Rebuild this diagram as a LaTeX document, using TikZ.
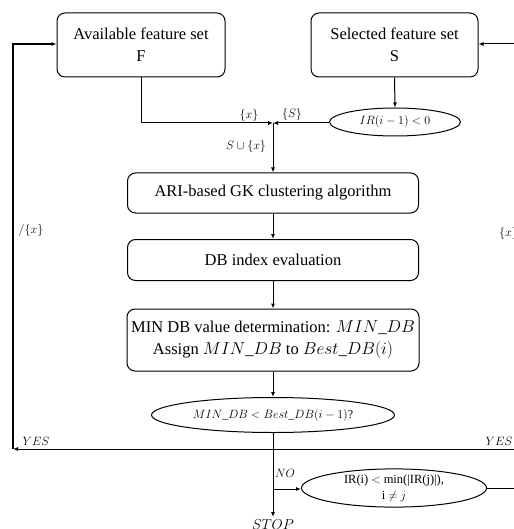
\documentclass[tikz,border=0pt]{standalone}
\usepackage{fontspec}
\setmainfont{Liberation Serif}
\usetikzlibrary{arrows.meta,shapes.geometric}
\begin{document}
\begin{tikzpicture}[x=1pt,y=-1pt,
  box/.style={draw, rounded corners=8pt, line width=1pt, align=center, inner sep=0pt,
    font=\fontsize{16.5}{22}\selectfont},
  ell/.style={draw, ellipse, line width=1pt, inner sep=0pt, align=center},
  arr/.style={-{Latex[length=5pt,width=4pt]}, line width=1pt},
  ln/.style={line width=1pt},
  lab/.style={inner sep=0pt, font=\fontsize{13}{15}\selectfont}]
\useasboundingbox (0,0) rectangle (513,529);

\node[box, minimum width=168pt, minimum height=64pt] (avail) at (141,45) {Available feature set\\F};
\node[box, minimum width=167pt, minimum height=64pt] (sel) at (394.5,45) {Selected feature set\\S};
\node[ell, minimum width=131pt, minimum height=28pt, font=\fontsize{12}{14}\selectfont] (ir1) at (395,122) {$IR(i-1)<0$};
\coordinate (j) at (273,123);
\node[box, minimum width=291pt, minimum height=40pt] (ari) at (273,193) {ARI-based GK clustering algorithm};
\node[box, minimum width=291pt, minimum height=41pt] (db) at (273,260) {DB index evaluation};
\node[box, minimum width=292pt, minimum height=62pt] (minb) at (273,340) {MIN DB value determination: $MIN\_DB$\\Assign $MIN\_DB$ to $Best\_DB(i)$};
\node[ell, minimum width=243pt, minimum height=35pt, font=\fontsize{12}{14}\selectfont] (mdb) at (273,415) {$MIN\_DB<Best\_DB(i-1)$?};
\node[ell, minimum width=185pt, minimum height=37pt, font=\fontsize{12.5}{16}\selectfont] (ir2) at (394,488) {IR(i) $<$ min(|IR(j)|),\\i $\neq$ $j$};

\coordinate (stopc) at (273,517);
\node[lab, anchor=north, font=\fontsize{14}{16}\selectfont] (stop) at (273,519) {$STOP$};

\coordinate (ac) at (avail.south |- j);
\coordinate (yc) at (273,449);
\coordinate (yl) at (13,449);
\coordinate (yr) at (530,449);
\coordinate (nc) at (273,489);
\coordinate (ir2r) at (530,488);
\coordinate (tl) at (13,44);
\coordinate (tr) at (530,44);

% connectors
\draw[ln] (avail.south) -- (ac);
\draw[arr] (ac) -- (j);
\draw[arr] (ir1.west |- j) -- (j);
\draw[arr] (sel.south) -- (ir1.north);
\draw[arr] (j) -- (ari.north);
\draw[arr] (ari.south) -- (db.north);
\draw[arr] (db.south) -- (minb.north);
\draw[arr] (minb.south) -- (mdb.north);
\draw[arr] (mdb.south) -- (stopc);
\draw[arr] (nc) -- (ir2.west |- nc);
\draw[arr] (yc) -- (yl);
\draw[arr, line width=1.4pt] (yl) -- (tl) -- (avail.west |- tl);
\draw[ln] (yc) -- (yr);
\draw[ln] (ir2.east) -- (ir2r) -- (tr);
\draw[arr] (tr) -- (sel.east |- tr);

% labels
\node[lab] (lx) at (249,116) {$\{x\}$};
\node[lab] (ls) at (292,115) {$\{S\}$};
\node[lab] (lsx) at (246,147) {$S\cup\{x\}$};
\node[lab] (lrm) at (31,230) {$/\{x\}$};
\node[lab, anchor=west] (ladd) at (499,233) {$\{x\}$};
\node[lab] (yesl) at (36,441) {$YES$};
\node[lab] (yesr) at (499,441) {$YES$};
\node[lab] (no) at (285,473) {$NO$};
\end{tikzpicture}
\end{document}
